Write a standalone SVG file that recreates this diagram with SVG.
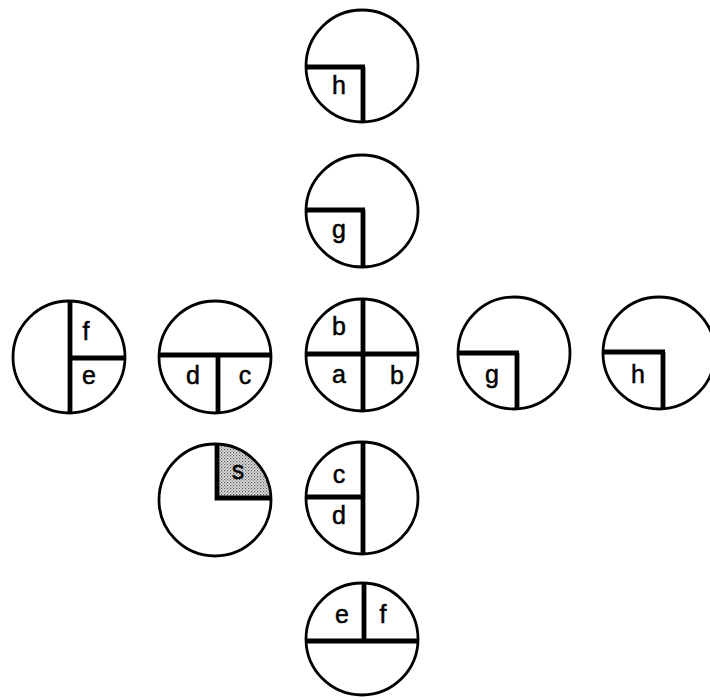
<svg xmlns="http://www.w3.org/2000/svg" width="710" height="700" viewBox="0 0 710 700">
<style>
.c{fill:none;stroke:#000;stroke-width:2.8}
.t{stroke:#000;stroke-width:4.8;fill:none;stroke-linecap:butt}
.l{font-family:"Liberation Sans",Arial,sans-serif;font-size:25px;text-anchor:middle;fill:#000;stroke:#000;stroke-width:0.5}
</style>
<defs>
<clipPath id="cc" clipPathUnits="userSpaceOnUse"><circle cx="0" cy="0" r="56"/></clipPath>
<pattern id="dots" width="3" height="3" patternUnits="userSpaceOnUse">
<rect width="3" height="3" fill="#e0e0e0"/>
<rect x="0" y="0" width="1.2" height="1.2" fill="#555"/>
<rect x="1.5" y="1.5" width="1.2" height="1.2" fill="#777"/>
</pattern>
</defs>
<rect width="710" height="700" fill="#fff"/>
<g id="connectors"></g>
<g id="n1" transform="translate(362,66)">
<g clip-path="url(#cc)"><path class="t" d="M-58,1 H3 M1,1 V58"/></g>
<circle class="c" r="56"/>
<text class="l" x="-23" y="28">h</text>
</g>
<g id="n2" transform="translate(362,211)">
<g clip-path="url(#cc)"><path class="t" d="M-58,-1 H3 M1,-1 V58"/></g>
<circle class="c" r="56"/>
<text class="l" x="-23" y="27">g</text>
</g>
<g id="n3" transform="translate(362,355)">
<g clip-path="url(#cc)"><path class="t" d="M-58,-1 H58 M1,-58 V58"/></g>
<circle class="c" r="56"/>
<text class="l" x="-23" y="-20">b</text>
<text class="l" x="-23" y="28">a</text>
<text class="l" x="35" y="29">b</text>
</g>
<g id="n4" transform="translate(362,498)">
<g clip-path="url(#cc)"><path class="t" d="M1,-58 V58 M-58,-1 H1"/></g>
<circle class="c" r="56"/>
<text class="l" x="-23" y="-15">c</text>
<text class="l" x="-23" y="26">d</text>
</g>
<g id="n5" transform="translate(362,639)">
<g clip-path="url(#cc)"><path class="t" d="M-58,2 H58 M2,-58 V2"/></g>
<circle class="c" r="56"/>
<text class="l" x="-20" y="-16">e</text>
<text class="l" x="21" y="-16">f</text>
</g>
<g id="n6" transform="translate(69,357)">
<g clip-path="url(#cc)"><path class="t" d="M1,-58 V58 M1,1 H58"/></g>
<circle class="c" r="56"/>
<text class="l" x="17" y="-17">f</text>
<text class="l" x="20" y="27">e</text>
</g>
<g id="n7" transform="translate(215,357)">
<g clip-path="url(#cc)"><path class="t" d="M-58,-2 H58 M3,-2 V58"/></g>
<circle class="c" r="56"/>
<text class="l" x="-22" y="27">d</text>
<text class="l" x="30" y="27">c</text>
</g>
<g id="n8" transform="translate(215,500)">
<g clip-path="url(#cc)">
<path d="M2,-2 V-58 H58 V-2 Z" fill="url(#dots)"/>
<path class="t" d="M2,-58 V-2 H58"/>
</g>
<circle class="c" r="56"/>
<text class="l" x="23" y="-21">s</text>
</g>
<g id="n9" transform="translate(514,353)">
<g clip-path="url(#cc)"><path class="t" d="M-58,0 H5 M3,0 V58"/></g>
<circle class="c" r="56"/>
<text class="l" x="-22" y="30">g</text>
</g>
<g id="n10" transform="translate(659,353)">
<g clip-path="url(#cc)"><path class="t" d="M-58,-1 H6 M4,-1 V58"/></g>
<circle class="c" r="56"/>
<text class="l" x="-21" y="30">h</text>
</g>
</svg>
